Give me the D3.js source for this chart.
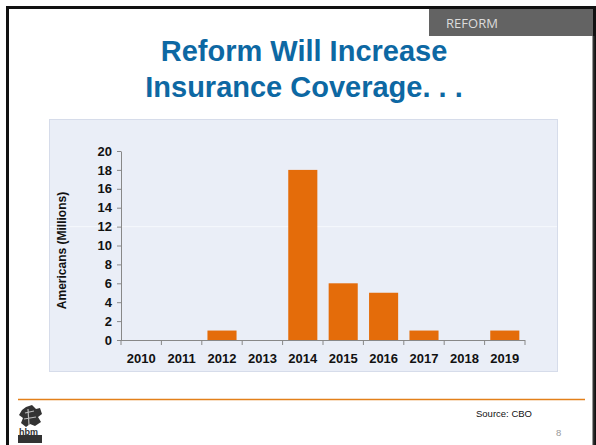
<!DOCTYPE html>
<html>
<head>
<meta charset="utf-8">
<script src="https://cdn.jsdelivr.net/npm/d3@7"></script>
<style>
	body { margin: 0; background: #fff; }
	svg { display: block; font-family: "Liberation Sans", Arial, sans-serif; }
</style>
</head>
<body>
<div id="container"></div>
<script>
const years = ["2010", "2011", "2012", "2013", "2014", "2015", "2016", "2017", "2018", "2019"];
const americans = [0, 0, 1, 0, 18, 6, 5, 1, 0, 1];
const yTicks = [0, 2, 4, 6, 8, 10, 12, 14, 16, 18, 20];
const titleLines = ["Reform Will Increase", "Insurance Coverage. . ."];

function drawChart() {
	const width = 596;
	const height = 445;
	const plot = { left: 121, right: 525, top: 151, bottom: 340 };

	const svg = d3
		.select("#container")
		.append("svg")
		.attr("width", width)
		.attr("height", height);

	// slide frame
	svg.append("path")
		.attr("d", `M7.5,${height} V7.5 H594.5 V${height}`)
		.attr("fill", "none")
		.attr("stroke", "#111")
		.attr("stroke-width", 3);
	svg.append("line")
		.attr("x1", 593.5).attr("x2", 593.5)
		.attr("y1", 36).attr("y2", height)
		.attr("stroke", "#333")
		.attr("stroke-width", 2);

	// section tab
	svg.append("rect")
		.attr("x", 429).attr("y", 9)
		.attr("width", 164).attr("height", 27)
		.attr("fill", "#636363");
	svg.append("text")
		.attr("x", 446).attr("y", 28)
		.attr("fill", "#dcdcdc")
		.attr("font-size", 13)
		.attr("font-family", "'Open Sans', sans-serif")
		.attr("textLength", 52)
		.text("REFORM");

	// title
	svg.append("g")
		.selectAll("text")
		.data(titleLines)
		.enter()
		.append("text")
		.attr("x", 304)
		.attr("y", (d, i) => 61 + i * 36)
		.attr("text-anchor", "middle")
		.attr("font-size", 29)
		.attr("font-weight", "bold")
		.attr("fill", "#0d68a3")
		.text((d) => d);

	// chart panel
	svg.append("rect")
		.attr("x", 49.5).attr("y", 119.5)
		.attr("width", 508).attr("height", 252)
		.attr("fill", "#eaeef7")
		.attr("stroke", "#d6dcea");

	const x = d3
		.scaleBand()
		.domain(years)
		.range([plot.left, plot.right])
		.paddingInner(0.28)
		.paddingOuter(0.14);

	const y = d3
		.scaleLinear()
		.domain([0, 20])
		.range([plot.bottom, plot.top]);

	// faint line at 12
	svg.append("line")
		.attr("x1", 50).attr("x2", 557)
		.attr("y1", y(12)).attr("y2", y(12))
		.attr("stroke", "#f6f8fc")
		.attr("stroke-width", 1);

	svg.append("g")
		.selectAll("rect")
		.data(americans)
		.enter()
		.append("rect")
		.attr("x", (d, i) => x(years[i]))
		.attr("y", (d) => y(d))
		.attr("width", x.bandwidth())
		.attr("height", (d) => y(0) - y(d))
		.attr("fill", "#e46c0a");

	const yAxis = d3.axisLeft(y).tickValues(yTicks).tickSize(4).tickSizeOuter(0).tickPadding(5);
	const yG = svg.append("g")
		.attr("transform", `translate(${plot.left}, 0)`)
		.call(yAxis);

	const xAxis = d3.axisBottom(x).tickSize(0).tickPadding(14);
	const xG = svg.append("g")
		.attr("transform", `translate(0, ${plot.bottom})`)
		.call(xAxis);

	// category separators below the axis
	const step = x.step();
	const bounds = d3.range(years.length + 1).map((i) => plot.left + i * step);
	xG.selectAll(".sep")
		.data(bounds)
		.enter()
		.append("line")
		.attr("class", "sep")
		.attr("x1", (d) => d).attr("x2", (d) => d)
		.attr("y1", 0).attr("y2", 5)
		.attr("stroke", "#888");

	[yG, xG].forEach((g) => {
		g.select(".domain").attr("stroke", "#888");
		g.selectAll(".tick line").attr("stroke", "#888");
		g.selectAll(".tick text")
			.attr("fill", "#111")
			.attr("font-size", 13)
			.attr("font-weight", "bold")
			.attr("font-family", "'Liberation Sans', Arial, sans-serif");
	});
	xG.select(".domain").attr("d", `M${plot.left},0.5H${plot.right}`);

	svg.append("text")
		.attr("transform", `translate(66, ${(plot.top + plot.bottom) / 2 + 5}) rotate(-90)`)
		.attr("text-anchor", "middle")
		.attr("font-size", 12)
		.attr("font-weight", "bold")
		.attr("fill", "#111")
		.text("Americans  (Millions)");

	// footer
	svg.append("line")
		.attr("x1", 18).attr("x2", 585)
		.attr("y1", 399.5).attr("y2", 399.5)
		.attr("stroke", "#e3801a")
		.attr("stroke-width", 1.5);

	svg.append("text")
		.attr("x", 476).attr("y", 417)
		.attr("font-size", 9.5)
		.attr("fill", "#111")
		.text("Source: CBO");

	svg.append("text")
		.attr("x", 556).attr("y", 436)
		.attr("font-size", 9.5)
		.attr("fill", "#999")
		.text("8");

	// logo (rough)
	const logo = svg.append("g").attr("transform", "translate(18, 405)").attr("fill", "#333");
	logo.append("path")
		.attr("d", "M8,2 L14,0 L18,4 L22,3 L24,9 L20,12 L23,17 L17,21 L12,19 L8,22 L3,18 L5,13 L1,10 L4,5 Z");
	logo.append("path")
		.attr("d", "M7,8 L16,6 M6,14 L18,12 M10,4 L11,20")
		.attr("stroke", "#bbb")
		.attr("stroke-width", 1.2)
		.attr("fill", "none");
	logo.append("rect").attr("x", 0).attr("y", 30).attr("width", 24).attr("height", 8);
	logo.append("text")
		.attr("x", 1).attr("y", 30)
		.attr("font-size", 9)
		.attr("font-weight", "bold")
		.text("hbm");
}

drawChart();
</script>
</body>
</html>
